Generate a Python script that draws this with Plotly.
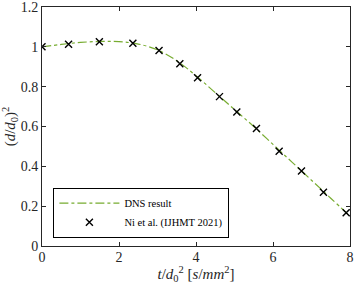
import plotly.graph_objects as go

# DNS result curve
dns_t = [0, 0.5, 1.0, 1.5, 2.0, 2.5, 3.0, 3.5, 4.0, 4.5, 5.0, 5.5, 6.0, 6.5, 7.0, 7.5, 8.0]
dns_d2 = [1.0, 1.012, 1.022, 1.027, 1.026, 1.014, 0.985, 0.93, 0.855, 0.77, 0.685, 0.6, 0.51, 0.42, 0.33, 0.24, 0.15]

# Ni et al. (IJHMT 2021) data
ni_t = [0.0, 0.69, 1.49, 2.36, 3.04, 3.58, 4.04, 4.61, 5.06, 5.57, 6.16, 6.74, 7.31, 7.90]
ni_d2 = [1.0, 1.013, 1.025, 1.018, 0.982, 0.915, 0.845, 0.75, 0.673, 0.59, 0.476, 0.377, 0.27, 0.167]

x_ticks = [0, 2, 4, 6, 8]
y_ticks = [0, 0.2, 0.4, 0.6, 0.8, 1.0, 1.2]
y_tick_labels = ["0", "0.2", "0.4", "0.6", "0.8", "1", "1.2"]

FONT = "Liberation Serif, DejaVu Serif, serif"
AXC = "#262626"

fig = go.Figure()
fig.add_trace(go.Scatter(
    x=dns_t, y=dns_d2, mode="lines", name="DNS result",
    line=dict(color="#77AC30", width=1.2, dash="dashdot", shape="spline"),
))
fig.add_trace(go.Scatter(
    x=ni_t, y=ni_d2, mode="markers", name="Ni et al. (IJHMT 2021)",
    marker=dict(symbol="x-thin", size=7, line=dict(color="black", width=1.4)),
))

axis_common = dict(
    showline=True, linecolor=AXC, linewidth=1, mirror="ticks",
    ticks="inside", ticklen=4, tickcolor=AXC, tickwidth=1,
    showgrid=False, zeroline=False, automargin=False,
    ticklabeloverflow="allow",
    tickfont=dict(family=FONT, size=14, color=AXC),
)

fig.update_layout(
    width=354, height=284,
    margin=dict(l=42, r=4, t=7, b=38),
    paper_bgcolor="white", plot_bgcolor="white",
    font=dict(family=FONT, color=AXC),
    xaxis=dict(range=[0, 8], tickvals=x_ticks, ticklabelstandoff=-2,
               title=dict(text="<i>t</i>/<i>d</i><sub>0</sub><sup>2</sup> [<i>s</i>/<i>mm</i><sup>2</sup>]",
                          font=dict(family=FONT, size=15, color=AXC), standoff=2),
               **axis_common),
    yaxis=dict(range=[0, 1.2], tickvals=y_ticks, ticktext=y_tick_labels,
               title=dict(text="(<i>d</i>/<i>d</i><sub>0</sub>)<sup>2</sup>",
                          font=dict(family=FONT, size=15, color=AXC), standoff=2),
               **axis_common),
    legend=dict(x=0.037, y=0.035, xanchor="left", yanchor="bottom",
                bgcolor="white", bordercolor="black", borderwidth=1,
                font=dict(family=FONT, size=10.5, color="black"),
                tracegroupgap=0, itemwidth=60),
    showlegend=True,
)

fig.write_html("out.html", post_script="document.body.style.margin='0';",
               config={"displayModeBar": False})
